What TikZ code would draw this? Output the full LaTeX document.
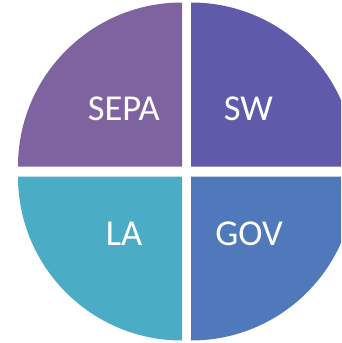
\documentclass[tikz,border=0pt]{standalone}
\usepackage{fontspec}
\setmainfont{Carlito}
\definecolor{sepac}{HTML}{7F63A1}
\definecolor{swc}{HTML}{5F5AAA}
\definecolor{lac}{HTML}{4BACC6}
\definecolor{govc}{HTML}{5079BB}
\tikzset{x=1pt,y=-1pt,
  lab/.style={text=white,font=\fontsize{36.5}{40}\selectfont,inner sep=0pt,anchor=base}}
\begin{document}
\begin{tikzpicture}
\useasboundingbox (0,0) rectangle (341,343);
\clip (0,0) rectangle (341,343);
\fill[white] (0,0) rectangle (341,343);
\def\R{164}
\fill[sepac] (182,166.5) -- (18,166.5) arc[start angle=180,end angle=90,radius=\R pt] -- cycle;
\fill[swc] (191,166.5) -- (191,2.5) arc[start angle=90,end angle=0,radius=\R pt] -- cycle;
\fill[lac] (182,176.5) -- (182,340.5) arc[start angle=270,end angle=180,radius=\R pt] -- cycle;
\fill[govc] (191,176.5) -- (355,176.5) arc[start angle=0,end angle=-90,radius=\R pt] -- cycle;
\node[lab] (sepa) at (123.7,120) {SEPA};
\node[lab] (sw) at (248.3,120) {SW};
\node[lab] (la) at (124,245) {LA};
\node[lab] (gov) at (249,245) {GOV};
\end{tikzpicture}
\end{document}
